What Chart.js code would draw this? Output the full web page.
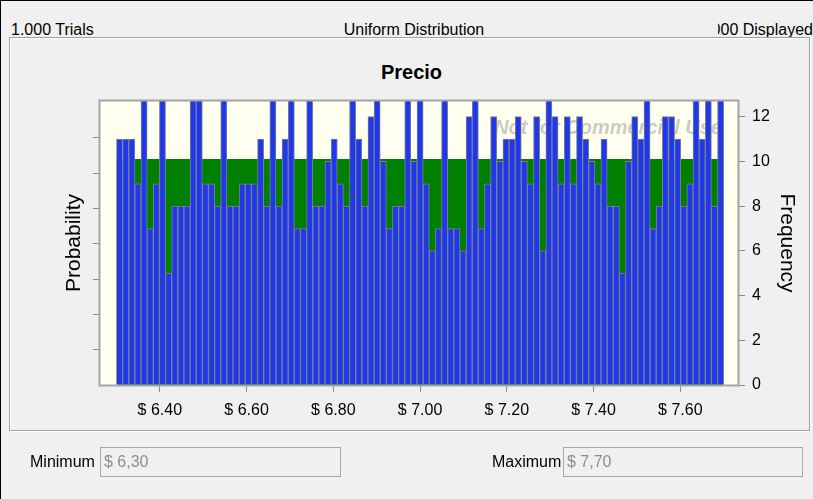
<!DOCTYPE html>
<html>
<head>
<meta charset="utf-8">
<script src="https://cdn.jsdelivr.net/npm/chart.js@4/dist/chart.umd.min.js"></script>
<style>
  html, body { margin: 0; padding: 0; }
  body {
    width: 813px; height: 499px; background: #f0f0f0; position: relative; overflow: hidden;
    font-family: "Liberation Sans", Arial, sans-serif; color: #000;
  }
  .edge { position: absolute; left: 0; top: 0; width: 813px; height: 499px; border-top: 1px solid #000; border-left: 1px solid #000; box-sizing: border-box; }
  .hdr { position: absolute; top: 21px; font-size: 16px; line-height: 18px; white-space: nowrap; }
  #trials { left: 11px; }
  #dist { left: 0; width: 828px; text-align: center; }
  #shown { left: 718px; width: 95px; overflow: hidden; display: flex; justify-content: flex-end; }
  .panel { position: absolute; left: 9px; top: 37px; width: 801px; height: 394px; border: 1px solid #a0a0a0; box-shadow: 1px 1px 0 #fff, inset 1px 1px 0 #fff; box-sizing: border-box; }
  #title { position: absolute; left: 0; width: 823px; top: 61px; text-align: center; font-weight: bold; font-size: 20px; line-height: 22px; }
  canvas { position: absolute; left: 0; top: 0; }
  .lbl { position: absolute; top: 453px; font-size: 16px; line-height: 18px; }
  .box { position: absolute; top: 447px; height: 30px; border: 1px solid #a8a8a8; color: #8c8c8c; font-size: 16px; line-height: 28px; padding-left: 3px; box-sizing: border-box; }
</style>
</head>
<body>
<div class="edge"></div>
<div class="hdr" id="trials">1.000 Trials</div>
<div class="hdr" id="dist">Uniform Distribution</div>
<div class="hdr" id="shown"><span>1.000 Displayed</span></div>
<div class="panel"></div>
<div id="title">Precio</div>
<canvas id="chart" width="813" height="499"></canvas>
<div class="lbl" style="left:30px">Minimum</div>
<div class="box" style="left:100px; width:241px">$ 6,30</div>
<div class="lbl" style="left:492px">Maximum</div>
<div class="box" style="left:563px; width:240px">$ 7,70</div>
<script>
const TRIALS = 1000;
const BIN_MIN = 6.30;
const BIN_MAX = 7.70;

// Frequency per bin (99 bins); bars that run off the top are shown as 13
const counts = [
  11, 11, 11, 9, 13, 7, 9, 13, 5, 8, 8, 8, 13, 13, 9, 9, 8, 13, 8, 8,
  9, 9, 9, 11, 8, 13, 8, 11, 13, 7, 7, 13, 8, 8, 10, 11, 9, 8, 13, 11,
  8, 12, 13, 10, 7, 8, 8, 13, 10, 13, 9, 6, 7, 13, 7, 7, 6, 12, 13, 7,
  9, 12, 10, 11, 11, 12, 10, 9, 12, 6, 13, 12, 9, 12, 9, 12, 11, 10, 9, 11,
  8, 8, 5, 10, 12, 11, 13, 7, 8, 12, 12, 11, 8, 9, 13, 11, 13, 8, 13
];

const priceTicks = [6.4, 6.6, 6.8, 7.0, 7.2, 7.4, 7.6];
const freqTicks = [0, 2, 4, 6, 8, 10, 12];
const probTicks = [0.00158, 0.00316, 0.00474, 0.00632, 0.0079, 0.00948, 0.01106];

const FREQ_MAX = 12.7;
const binWidth = (BIN_MAX - BIN_MIN) / counts.length;
const bars = counts.map((c, i) => ({ x: BIN_MIN + (i + 0.5) * binWidth, y: c }));
// expected count for a uniform fit
const expected = TRIALS / counts.length;
const fit = [{ x: BIN_MIN, y: expected }, { x: BIN_MAX, y: expected }];

const plotBackground = {
  id: "plotBackground",
  beforeDatasetsDraw(chart) {
    const { ctx, chartArea: a } = chart;
    ctx.save();
    ctx.fillStyle = "#fffff0";
    ctx.fillRect(a.left, a.top, a.width, a.height);
    ctx.font = 'italic bold 20px "Liberation Sans"';
    ctx.fillStyle = "rgba(160,160,160,0.55)";
    ctx.textAlign = "right";
    ctx.textBaseline = "alphabetic";
    ctx.fillText("Not for Commercial Use", a.right - 16, a.top + 33);
    ctx.restore();
  },
  afterDatasetsDraw(chart) {
    const { ctx, chartArea: a } = chart;
    ctx.save();
    ctx.strokeStyle = "#a4a4a4";
    ctx.lineWidth = 2;
    ctx.strokeRect(a.left - 0.5, a.top - 0.5, a.width + 1, a.height + 1);
    ctx.restore();
  },
};

const tickFont = { family: '"Liberation Sans", Arial, sans-serif', size: 16 };
const titleFont = { family: '"Liberation Sans", Arial, sans-serif', size: 21 };
const tickGrid = { drawOnChartArea: false, tickLength: 7, color: "#8a8a8a", offset: false };

new Chart(document.getElementById("chart").getContext("2d"), {
  type: "bar",
  data: {
    datasets: [
      {
        type: "line",
        data: fit,
        yAxisID: "freq",
        borderWidth: 0,
        pointRadius: 0,
        fill: "origin",
        backgroundColor: "#008000",
        order: 2,
      },
      {
        data: bars,
        yAxisID: "freq",
        backgroundColor: "#1e38ea",
        borderColor: "#808088",
        borderWidth: 1,
        barPercentage: 1,
        categoryPercentage: 1,
        order: 1,
      },
    ],
  },
  options: {
    responsive: false,
    animation: false,
    events: [],
    layout: { padding: { top: 101, bottom: 84, left: 58, right: 10 } },
    scales: {
      x: {
        type: "linear",
        min: 6.262,
        max: 7.733,
        offset: false,
        afterBuildTicks: (s) => { s.ticks = priceTicks.map((v) => ({ value: v })); },
        afterFit: (s) => { s.height = 30; },
        ticks: {
          autoSkip: false,
          maxRotation: 0,
          padding: 9,
          color: "#000",
          font: tickFont,
          callback: (v) => "$ " + Number(v).toFixed(2).replace(".", ","),
        },
        grid: tickGrid,
        border: { display: false },
      },
      prob: {
        position: "left",
        min: 0,
        max: FREQ_MAX / TRIALS,
        afterBuildTicks: (s) => { s.ticks = probTicks.map((v) => ({ value: v })); },
        afterFit: (s) => { s.width = 42; },
        ticks: { callback: () => "", font: tickFont },
        grid: tickGrid,
        border: { display: false },
        title: { display: true, text: "Probability", color: "#000", font: titleFont, padding: 4 },
      },
      freq: {
        position: "right",
        min: 0,
        max: FREQ_MAX,
        afterBuildTicks: (s) => { s.ticks = freqTicks.map((v) => ({ value: v })); },
        afterFit: (s) => { s.width = 65; },
        ticks: { padding: 7, color: "#000", font: tickFont },
        grid: tickGrid,
        border: { display: false },
        title: { display: true, text: "Frequency", color: "#000", font: titleFont, padding: 4 },
      },
    },
    plugins: {
      legend: { display: false },
      tooltip: { enabled: false },
    },
  },
  plugins: [plotBackground],
});
</script>
</body>
</html>
